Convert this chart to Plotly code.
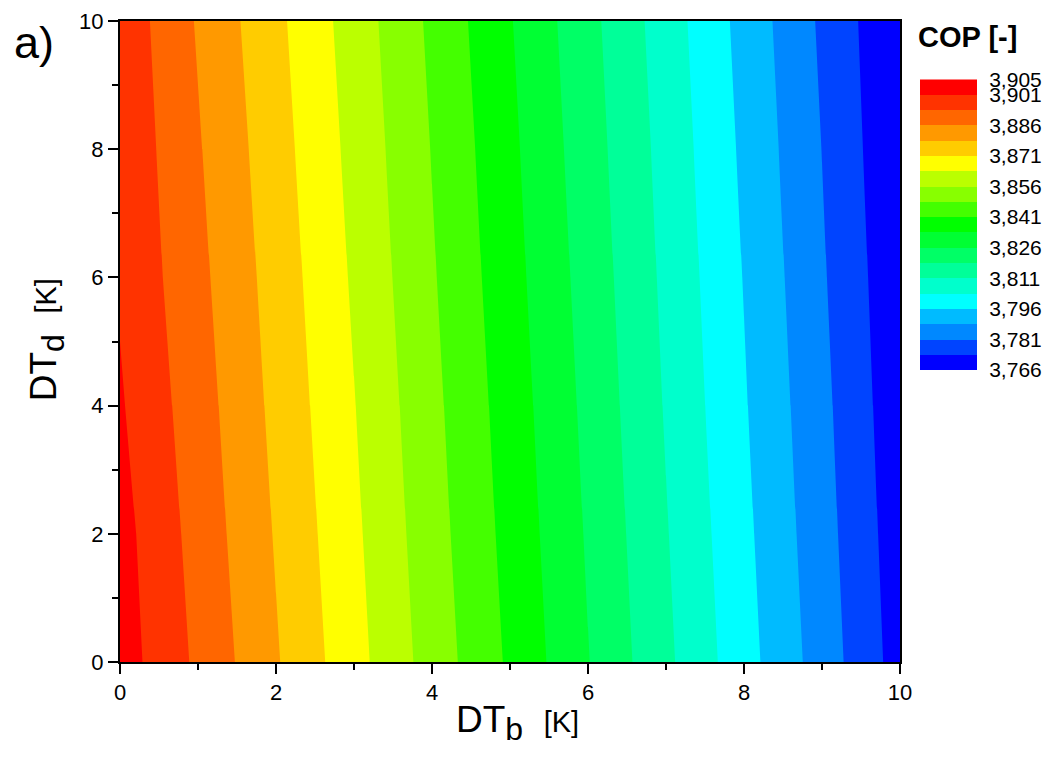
import plotly.graph_objects as go

# ---- data ----
dt_b = [0, 1, 2, 3, 4, 5, 6, 7, 8, 9, 10]          # x  (DT_b [K])
dt_d = [0, 2, 4, 6, 8, 10]                          # y  (DT_d [K])
cop = [
    [3.9046, 3.8921, 3.8792, 3.8662, 3.8528, 3.8398, 3.8263, 3.8126, 3.7989, 3.7851, 3.7703],
    [3.9037, 3.8907, 3.8779, 3.8650, 3.8516, 3.8386, 3.8252, 3.8115, 3.7978, 3.7840, 3.7694],
    [3.9018, 3.8894, 3.8766, 3.8638, 3.8505, 3.8375, 3.8241, 3.8104, 3.7967, 3.7830, 3.7685],
    [3.9002, 3.8880, 3.8754, 3.8625, 3.8493, 3.8363, 3.8230, 3.8094, 3.7957, 3.7819, 3.7677],
    [3.8994, 3.8867, 3.8741, 3.8613, 3.8482, 3.8352, 3.8219, 3.8084, 3.7946, 3.7809, 3.7668],
    [3.8986, 3.8853, 3.8728, 3.8601, 3.8470, 3.8340, 3.8208, 3.8073, 3.7935, 3.7798, 3.7662],
]
level_start = 3.7735
level_end = 3.901
level_step = 0.0075
band_colors = ["#0000ff", "#0044ff", "#0088ff", "#00bbff", "#00ffff", "#00ffcc",
               "#00ff99", "#00ff66", "#00ff33", "#00ff00", "#44ff00", "#88ff00",
               "#bbff00", "#ffff00", "#ffcc00", "#ff9900", "#ff6600", "#ff3300",
               "#ff0000"]
cbar_labels = ["3,766", "3,781", "3,796", "3,811", "3,826", "3,841",
               "3,856", "3,871", "3,886", "3,901", "3,905"]

FONT = "Liberation Sans, Arial, sans-serif"
n = len(band_colors)
colorscale = [[i / (n - 1), c] for i, c in enumerate(band_colors)]

fig = go.Figure()
fig.add_trace(go.Contour(
    x=dt_b, y=dt_d, z=cop,
    autocontour=False,
    contours=dict(start=level_start, end=level_end, size=level_step,
                  coloring="fill", showlines=False),
    line=dict(width=0, smoothing=0),
    colorscale=colorscale, showscale=False, hoverinfo="skip",
))

# discrete colour key drawn as a heatmap on its own axes
band_idx = list(range(n))
tickvals = [2 * i - 0.5 for i in range(len(cbar_labels) - 1)] + [n - 0.5]
fig.add_trace(go.Heatmap(
    x=[0], y=band_idx, z=[[i] for i in band_idx],
    colorscale=colorscale, zmin=0, zmax=n - 1, showscale=False,
    xaxis="x2", yaxis="y2", hoverinfo="skip",
))

axis_common = dict(showgrid=False, zeroline=False, showline=True, linewidth=2,
                   linecolor="black", mirror=True, ticks="outside", ticklen=10,
                   tickwidth=2, tickcolor="black",
                   tickfont=dict(family=FONT, size=22, color="black"),
                   minor=dict(dtick=1, ticks="outside", ticklen=6, tickwidth=2,
                              tickcolor="black"))

W_PLOT = 931
fig.update_layout(
    width=1051, height=758,
    margin=dict(l=120, r=0, t=21, b=96, autoexpand=False),
    paper_bgcolor="white", plot_bgcolor="white",
    font=dict(family=FONT, color="black"),
    xaxis=dict(domain=[0, 780 / W_PLOT], range=[0, 10], tick0=0, dtick=2,
               automargin=False, **axis_common),
    yaxis=dict(domain=[0, 1], range=[0, 10], tick0=0, dtick=2,
               automargin=False, **axis_common),
    xaxis2=dict(domain=[800 / W_PLOT, 857 / W_PLOT], range=[-0.5, 0.5], anchor="y2",
                showticklabels=False, showgrid=False, zeroline=False, showline=False,
                ticks="", automargin=False),
    yaxis2=dict(domain=[0.4555, 0.909], range=[-0.5, n - 0.5], anchor="x2", side="right",
                tickvals=tickvals, ticktext=cbar_labels, showgrid=False, zeroline=False,
                showline=False, ticks="outside", ticklen=7, tickcolor="rgba(0,0,0,0)",
                automargin=False,
                tickfont=dict(family=FONT, size=21, color="black")),
    showlegend=False,
)

fig.add_annotation(
    text='DT<sub><span style="font-size:32px">b</span></sub>  <span style="font-size:29px">[K]</span>',
    xref="paper", yref="paper", x=(517 - 120) / W_PLOT, y=-0.095,
    xanchor="center", yanchor="middle", showarrow=False,
    font=dict(family=FONT, size=37, color="black"))
fig.add_annotation(
    text='DT<sub><span style="font-size:32px">d</span></sub>  <span style="font-size:29px">[K]</span>',
    xref="paper", yref="paper", x=(47 - 120) / W_PLOT, y=0.502, textangle=-90,
    xanchor="center", yanchor="middle", showarrow=False,
    font=dict(family=FONT, size=37, color="black"))
fig.add_annotation(
    text="a)", xref="paper", yref="paper", x=(34 - 120) / W_PLOT, y=0.966,
    xanchor="center", yanchor="middle", showarrow=False,
    font=dict(family=FONT, size=45, color="black"))
fig.add_annotation(
    text="<b>COP [-]</b>", xref="paper", yref="paper", x=(916 - 120) / W_PLOT, y=0.975,
    xanchor="left", yanchor="middle", showarrow=False,
    font=dict(family=FONT, size=29, color="black"))

fig.write_html("out.html")
